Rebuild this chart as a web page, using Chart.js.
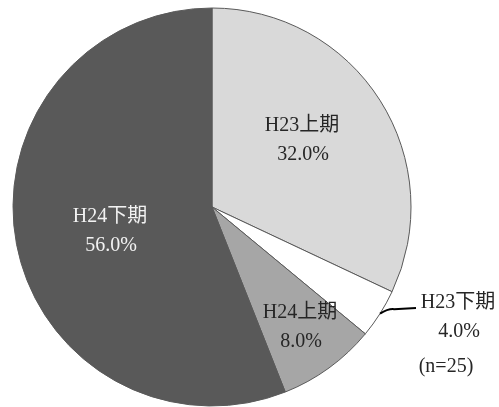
<!DOCTYPE html>
<html><head><meta charset="utf-8">
<script src="https://cdn.jsdelivr.net/npm/chart.js@4.4.0/dist/chart.umd.min.js"></script>
<style>html,body{margin:0;padding:0;background:#fff;}canvas{display:block;}</style>
</head><body>
<canvas id="c" width="499" height="407"></canvas>
<script>
const categories = ['H23上期', 'H23下期', 'H24上期', 'H24下期'];
const values = [32.0, 4.0, 8.0, 56.0];
const sampleNote = '(n=25)';
const sliceColors = ['#d9d9d9', '#ffffff', '#a6a6a6', '#595959'];
const textColors = ['#262626', '#262626', '#262626', '#f2f2f2'];
// label centre offsets from pie centre (style/layout, not data)
const labelOffsets = [[90, -67], [246, 110], [88, 120], [-102, 24]];
const FONT = '20px "Liberation Serif", "Noto Sans CJK JP", serif';

const labelPlugin = {
  id: 'sliceLabels',
  afterDatasetsDraw(chart) {
    const ctx = chart.ctx;
    const meta = chart.getDatasetMeta(0);
    ctx.save();
    ctx.font = FONT;
    ctx.textAlign = 'center';
    ctx.textBaseline = 'middle';
    meta.data.forEach((arc, i) => {
      const cx = arc.x + labelOffsets[i][0];
      const cy = arc.y + labelOffsets[i][1];
      ctx.fillStyle = textColors[i];
      ctx.fillText(categories[i], cx, cy - 14);
      ctx.fillText(values[i].toFixed(1) + '%', cx + 1, cy + 15);
      if (i === 1) {
        // leader line from arc edge to label
        const mid = (arc.startAngle + arc.endAngle) / 2;
        const sx = arc.x + Math.cos(mid) * arc.outerRadius;
        const sy = arc.y + Math.sin(mid) * arc.outerRadius;
        ctx.strokeStyle = '#000';
        ctx.lineWidth = 2;
        ctx.beginPath();
        ctx.moveTo(sx, sy);
        ctx.quadraticCurveTo(sx + 8, sy - 5, sx + 14, sy - 4.5);
        ctx.lineTo(cx - 42, cy - 14 + 5);
        ctx.stroke();
        ctx.fillText(sampleNote, cx - 12, cy + 50);
      }
    });
    ctx.restore();
  }
};

new Chart(document.getElementById('c'), {
  type: 'pie',
  data: {
    labels: categories,
    datasets: [{
      data: values,
      backgroundColor: sliceColors,
      borderColor: '#595959',
      borderWidth: 1,
      hoverOffset: 0
    }]
  },
  options: {
    responsive: false,
    animation: false,
    devicePixelRatio: 1,
    layout: { padding: { left: 12.5, top: 7.5, right: 87.5, bottom: 0.5 } },
    plugins: { legend: { display: false }, tooltip: { enabled: false } }
  },
  plugins: [labelPlugin]
});
</script>
</body></html>
